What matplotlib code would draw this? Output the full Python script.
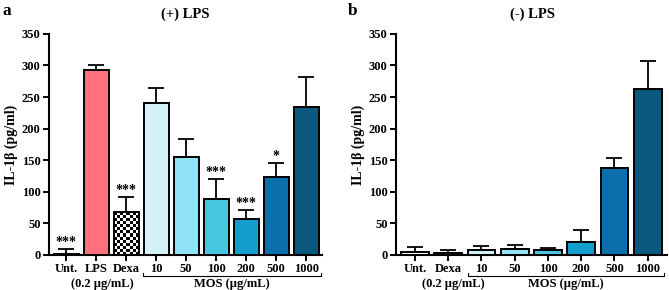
import numpy as np
import matplotlib
matplotlib.use('Agg')
import matplotlib.pyplot as plt
from matplotlib.transforms import offset_copy

plt.rcParams['font.family'] = ['Liberation Serif', 'DejaVu Serif']
plt.rcParams['font.weight'] = 'bold'

# panel a: (+) LPS
labels_a = ['Unt.', 'LPS', 'Dexa', '10', '50', '100', '200', '500', '1000']
means_a = [2, 293, 68, 240, 155, 88, 57, 123, 234]
errs_a = [8, 7, 23, 25, 28, 32, 14, 22, 48]
stars_a = ['***', '', '***', '', '', '***', '***', '*', '']
colors_a = ['white', '#ff6f7e', 'white', '#d3f2f8', '#8fe3f4', '#46c6df',
            '#129dcf', '#0a6fab', '#0a587b']

# panel b: (-) LPS
labels_b = ['Unt.', 'Dexa', '10', '50', '100', '200', '500', '1000']
means_b = [4, 3, 7, 9, 8, 20, 138, 263]
errs_b = [8, 5, 7, 7, 3, 19, 16, 44]
colors_b = ['white', 'white', '#d3f2f8', '#8fe3f4', '#46c6df',
            '#129dcf', '#0a6fab', '#0a587b']

checker = np.indices((14, 8)).sum(axis=0) % 2


def draw_panel(ax, labels, means, errs, colors, width, dexa_idx, checked, stars=None):
    x = np.arange(len(labels))
    bars = ax.bar(x, means, width=width, color=colors, edgecolor='black',
                  linewidth=1.4, zorder=3)
    if checked:
        b = bars[dexa_idx]
        x0 = b.get_x()
        ax.imshow(checker, cmap='gray', extent=(x0, x0 + width, 0, b.get_height()),
                  aspect='auto', interpolation='nearest', zorder=2)
        b.set_facecolor('none')
    ax.errorbar(x, means, yerr=[np.zeros(len(x)), errs], fmt='none',
                ecolor='black', elinewidth=1.3, capsize=5.5, capthick=1.3, zorder=2)
    if stars:
        for xi, m, e, s in zip(x, means, errs, stars):
            if s:
                ax.annotate(s, (xi, m + e), xytext=(0, 0), textcoords='offset points',
                            ha='center', va='bottom', fontsize=10, fontweight='bold')
    ax.set_ylim(0, 350)
    ax.set_yticks(range(0, 351, 50))
    ax.set_xticks(x)
    ax.set_xticklabels(labels)
    for s in ['top', 'right']:
        ax.spines[s].set_visible(False)
    for s in ['left', 'bottom']:
        ax.spines[s].set_linewidth(1.5)
    ax.tick_params(width=1.4, length=4, labelsize=9, pad=2)
    ax.set_ylabel('IL-1β (pg/ml)', fontsize=10, fontweight='bold', labelpad=3)


def add_labels(ax, x0, x1, xd):
    tr = ax.get_xaxis_transform()
    t = offset_copy(tr, fig=fig, x=0, y=-15.5, units='points')
    ax.plot([x0, x0, x1, x1], [0.015, 0, 0, 0.015], transform=t, color='black',
            lw=0.8, clip_on=False)
    tt = offset_copy(tr, fig=fig, x=0, y=-21, units='points')
    ax.text((x0 + x1) / 2, 0, 'MOS (µg/mL)', transform=tt, ha='center', va='center',
            fontsize=9, fontweight='bold')
    ax.text(xd, 0, '(0.2 µg/mL)', transform=tt, ha='center', va='center',
            fontsize=9, fontweight='bold')


fig = plt.figure(figsize=(6.69, 2.9), dpi=100)
ax1 = fig.add_axes([0.073, 0.121, 0.408, 0.762])
ax2 = fig.add_axes([0.592, 0.121, 0.405, 0.762])

draw_panel(ax1, labels_a, means_a, errs_a, colors_a, 0.83, 2, True, stars_a)
ax1.set_xlim(-0.58, 8.52)
draw_panel(ax2, labels_b, means_b, errs_b, colors_b, 0.84, 1, False)
ax2.set_xlim(-0.57, 7.58)

add_labels(ax1, 2.55, 8.48, 1.2)
add_labels(ax2, 1.6, 7.5, 1.15)

fig.text(0.277, 0.975, '(+) LPS', ha='center', va='top', fontsize=10.5, fontweight='bold')
fig.text(0.796, 0.975, '(-) LPS', ha='center', va='top', fontsize=10.5, fontweight='bold')
fig.text(0.003, 0.99, 'a', ha='left', va='top', fontsize=12.5, fontweight='bold')
fig.text(0.52, 0.99, 'b', ha='left', va='top', fontsize=12.5, fontweight='bold')

fig.savefig('out.png', dpi=100)
